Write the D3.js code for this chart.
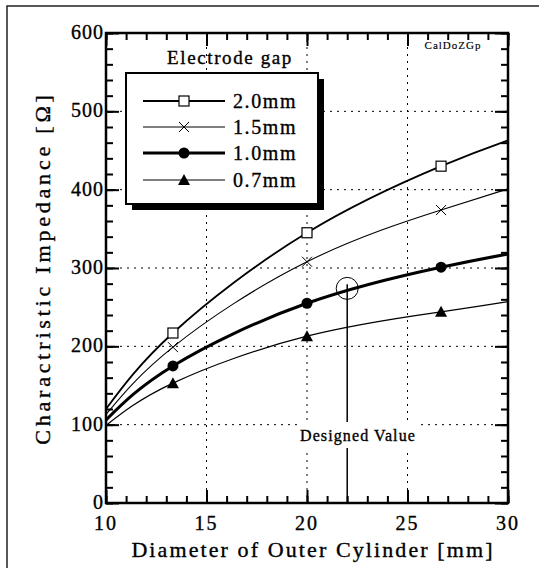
<!DOCTYPE html>
<html>
<head>
<meta charset="utf-8">
<script src="https://cdn.jsdelivr.net/npm/d3@7"></script>
<style>
  body { margin: 0; background: #fff; }
  svg text { font-family: "Liberation Serif", "Times New Roman", "DejaVu Serif", serif; fill: #000; stroke: #000; stroke-width: 0.35px; }
</style>
</head>
<body>
<svg id="chart" width="539" height="568" font-family="Liberation Serif, Times New Roman, serif"></svg>
<script>
// Data
var gapLabels = ["2.0mm", "1.5mm", "1.0mm", "0.7mm"];
var curveX = [10, 13.33, 20, 26.67, 30];
var markerX = [13.33, 20, 26.67];
var z20 = [120, 217, 345, 430, 463];
var z15 = [113, 199, 308, 374, 401];
var z10 = [106, 175, 255, 301, 318];
var z07 = [99, 153, 213, 244, 257];
var xTicks = [10, 15, 20, 25, 30];
var yTicks = [0, 100, 200, 300, 400, 500, 600];
var designX = 22, designZ = 274;

var series = [
  { label: gapLabels[0], vals: z20, marker: "square", width: 1.8 },
  { label: gapLabels[1], vals: z15, marker: "cross", width: 1.1 },
  { label: gapLabels[2], vals: z10, marker: "circle", width: 3 },
  { label: gapLabels[3], vals: z07, marker: "triangle", width: 1.2 }
];

var svg = d3.select("#chart");
var P = { LEFT: 106, RIGHT: 508, TOP: 33, BOTTOM: 503 };

// outer frame (cropped on right and bottom)
svg.append("rect").attr("x", 7).attr("y", 6).attr("width", 560).attr("height", 600)
  .attr("fill", "none").attr("stroke", "#222").attr("stroke-width", 1.5);

var x = d3.scaleLinear().domain([10, 30]).range([P.LEFT, P.RIGHT]);
var y = d3.scaleLinear().domain([0, 600]).range([P.BOTTOM, P.TOP]);

// grid
var grid = svg.append("g").attr("stroke", "#000").attr("stroke-width", 1).attr("stroke-dasharray", "2,5");
grid.selectAll(".gx").data([15, 20, 25]).enter().append("line")
  .attr("x1", d => x(d)).attr("x2", d => x(d)).attr("y1", P.TOP).attr("y2", P.BOTTOM);
grid.selectAll(".gy").data([100, 200, 300, 400, 500]).enter().append("line")
  .attr("x1", P.LEFT).attr("x2", P.RIGHT).attr("y1", d => y(d)).attr("y2", d => y(d));

// inward ticks via d3 axes
var xMinor = d3.range(10, 31, 1);
var yMinor = d3.range(0, 601, 20);
function styleAxis(g) {
  g.select(".domain").remove();
  g.selectAll(".tick line").attr("stroke", "#000").attr("stroke-width", 2);
  g.selectAll("text").remove();
}
svg.append("g").attr("transform", `translate(0,${P.BOTTOM})`)
  .call(d3.axisBottom(x).tickValues(xMinor).tickSize(-7)).call(styleAxis);
svg.append("g").attr("transform", `translate(0,${P.BOTTOM})`)
  .call(d3.axisBottom(x).tickValues(xTicks).tickSize(-13)).call(styleAxis);
svg.append("g").attr("transform", `translate(0,${P.TOP})`)
  .call(d3.axisTop(x).tickValues(xMinor).tickSize(-7)).call(styleAxis);
svg.append("g").attr("transform", `translate(0,${P.TOP})`)
  .call(d3.axisTop(x).tickValues(xTicks).tickSize(-13)).call(styleAxis);
svg.append("g").attr("transform", `translate(${P.LEFT},0)`)
  .call(d3.axisLeft(y).tickValues(yMinor).tickSize(-7)).call(styleAxis);
svg.append("g").attr("transform", `translate(${P.LEFT},0)`)
  .call(d3.axisLeft(y).tickValues(yTicks).tickSize(-13)).call(styleAxis);
svg.append("g").attr("transform", `translate(${P.RIGHT},0)`)
  .call(d3.axisRight(y).tickValues(yMinor).tickSize(-7)).call(styleAxis);
svg.append("g").attr("transform", `translate(${P.RIGHT},0)`)
  .call(d3.axisRight(y).tickValues(yTicks).tickSize(-13)).call(styleAxis);

// plot frame
svg.append("rect").attr("x", P.LEFT).attr("y", P.TOP)
  .attr("width", P.RIGHT - P.LEFT).attr("height", P.BOTTOM - P.TOP)
  .attr("fill", "none").attr("stroke", "#000").attr("stroke-width", 2.5);

// tick labels
svg.selectAll(".xl").data(xTicks).enter().append("text")
  .attr("x", d => x(d)).attr("y", 530).attr("text-anchor", "middle")
  .style("font-size", "20px").style("letter-spacing", "2px").text(d => d);
svg.selectAll(".yl").data(yTicks).enter().append("text")
  .attr("x", P.LEFT - 2).attr("y", d => y(d) + 6).attr("text-anchor", "end")
  .style("font-size", "20px").style("letter-spacing", "1px").text(d => d);

// axis titles
svg.append("text").attr("x", 313).attr("y", 557).attr("text-anchor", "middle")
  .style("font-size", "22px").style("letter-spacing", "2.1px")
  .text("Diameter of Outer Cylinder [mm]");
svg.append("text").attr("transform", "translate(50,268) rotate(-90)").attr("text-anchor", "middle")
  .style("font-size", "22px").style("letter-spacing", "3.8px")
  .text("Charactristic Impedance [\u03A9]");

svg.append("text").attr("x", 453).attr("y", 49).attr("text-anchor", "middle")
  .style("font-size", "11px").style("letter-spacing", "1px").style("stroke-width", "0.15px").text("CalDoZGp");

// curves
var line = d3.line().x(d => x(d[0])).y(d => y(d[1])).curve(d3.curveNatural);
function drawMarker(g, type, cx, cy) {
  if (type === "square") {
    g.append("rect").attr("x", cx - 5).attr("y", cy - 5).attr("width", 10).attr("height", 10)
      .attr("fill", "#fff").attr("stroke", "#000").attr("stroke-width", 1.2);
  } else if (type === "cross") {
    g.append("path").attr("d", `M${cx - 5},${cy - 5}L${cx + 5},${cy + 5}M${cx - 5},${cy + 5}L${cx + 5},${cy - 5}`)
      .attr("stroke", "#000").attr("stroke-width", 1);
  } else if (type === "circle") {
    g.append("circle").attr("cx", cx).attr("cy", cy).attr("r", 5.5).attr("fill", "#000");
  } else {
    g.append("path").attr("d", `M${cx},${cy - 6}L${cx + 6},${cy + 5}L${cx - 6},${cy + 5}Z`).attr("fill", "#000");
  }
}

var plot = svg.append("g");
series.forEach(function (s) {
  var pts = curveX.map((cx, i) => [cx, s.vals[i]]);
  plot.append("path").datum(pts).attr("d", line)
    .attr("fill", "none").attr("stroke", "#000").attr("stroke-width", s.width);
  pts.forEach(function (p) {
    if (markerX.indexOf(p[0]) >= 0) drawMarker(plot, s.marker, x(p[0]), y(p[1]));
  });
});

// designed value
svg.append("line").attr("x1", x(designX)).attr("x2", x(designX))
  .attr("y1", y(designZ) - 4).attr("y2", P.BOTTOM)
  .attr("stroke", "#000").attr("stroke-width", 1.5);
svg.append("circle").attr("cx", x(designX)).attr("cy", y(designZ)).attr("r", 11)
  .attr("fill", "none").attr("stroke", "#000").attr("stroke-width", 1);
svg.append("rect").attr("x", 300).attr("y", 422).attr("width", 116).attr("height", 26).attr("fill", "#fff");
svg.append("text").attr("x", 358).attr("y", 441).attr("text-anchor", "middle")
  .style("font-size", "16px").style("letter-spacing", "1.1px").text("Designed Value");

// legend
var leg = svg.append("g");
leg.append("text").attr("x", 230).attr("y", 64).attr("text-anchor", "middle")
  .style("font-size", "19px").style("letter-spacing", "1.6px").text("Electrode gap");
leg.append("rect").attr("x", 132).attr("y", 79).attr("width", 192).attr("height", 131).attr("fill", "#000");
leg.append("rect").attr("x", 126).attr("y", 73).attr("width", 192).attr("height", 131)
  .attr("fill", "#fff").attr("stroke", "#000").attr("stroke-width", 2);
var legY = [101, 127, 153, 180];
series.forEach(function (s, i) {
  leg.append("line").attr("x1", 143).attr("x2", 225).attr("y1", legY[i]).attr("y2", legY[i])
    .attr("stroke", "#000").attr("stroke-width", s.width);
  drawMarker(leg, s.marker, 184, legY[i]);
  leg.append("text").attr("x", 233).attr("y", legY[i] + 7)
    .style("font-size", "20px").style("letter-spacing", "1.6px").text(s.label);
});
</script>
</body>
</html>
